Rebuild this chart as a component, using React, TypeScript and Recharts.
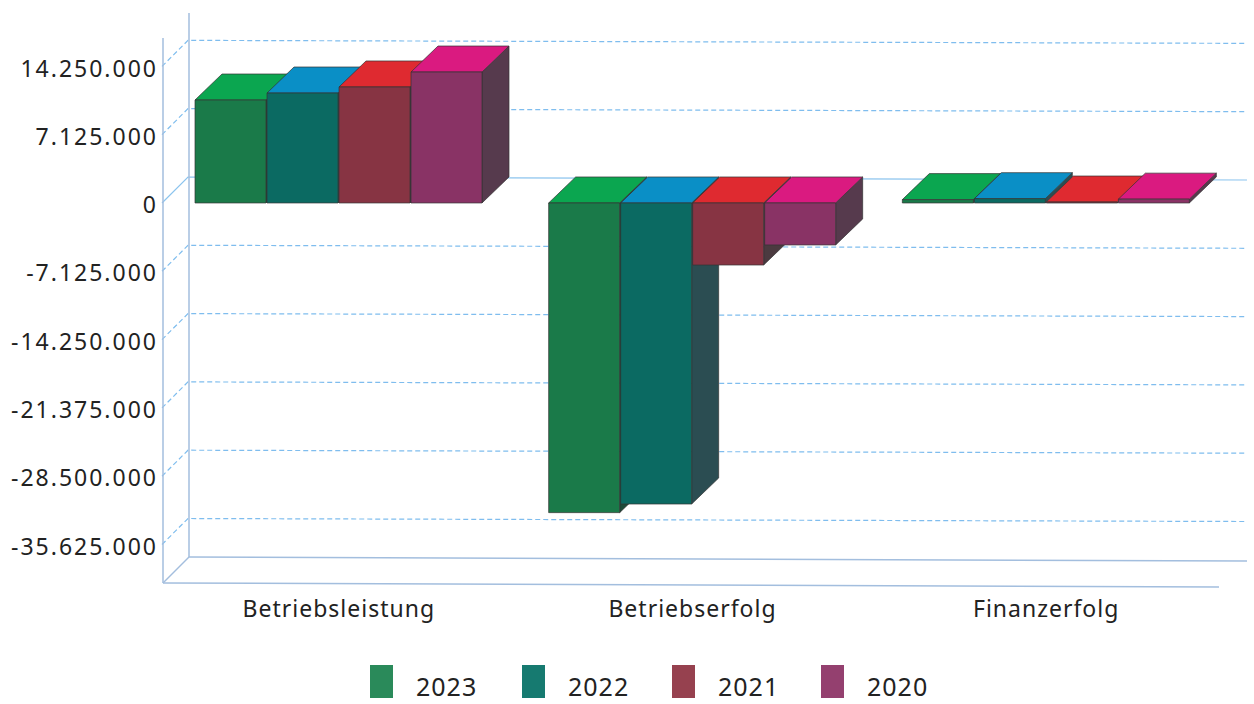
import { BarChart, Bar, XAxis, YAxis, CartesianGrid, Legend } from 'recharts';

const categories = ['Betriebsleistung', 'Betriebserfolg', 'Finanzerfolg'];
const values2023 = [10740000, -32300000, 350000];
const values2022 = [11470000, -31400000, 450000];
const values2021 = [12100000, -6470000, 100000];
const values2020 = [13660000, -4380000, 400000];
const yTicks = [14250000, 7125000, 0, -7125000, -14250000, -21375000, -28500000, -35625000];
const yDomain = [-39640000, 17000000];

const data = categories.map((name, i) => ({
  name,
  y2023: values2023[i],
  y2022: values2022[i],
  y2021: values2021[i],
  y2020: values2020[i],
}));

// front, top and side colours of the fake 3D columns
const series = [
  { key: 'y2023', name: '2023', front: '#1a7a49', top: '#0ba650', side: '#1d4a38', legend: '#2a8a5a' },
  { key: 'y2022', name: '2022', front: '#0b6a62', top: '#0a8fc6', side: '#2b4d52', legend: '#167a70' },
  { key: 'y2021', name: '2021', front: '#873443', top: '#df2a30', side: '#4b3a40', legend: '#96414f' },
  { key: 'y2020', name: '2020', front: '#893365', top: '#da1a80', side: '#563a4d', legend: '#94406f' },
];

const WIDTH = 1254;
const HEIGHT = 704;
const PLOT_TOP = 40;
const PLOT_BOTTOM = 583;
const PLOT_LEFT = 162;
const DX = 27;
const DY = -26;
const FONT = '"Noto Sans", sans-serif';
const LINE = '#a3bede';

const zeroY =
  PLOT_TOP + ((PLOT_BOTTOM - PLOT_TOP) * yDomain[1]) / (yDomain[1] - yDomain[0]);

const Column = (props: any) => {
  const { x, y, width, height, front, top, side } = props;
  const y0 = Math.min(y, y + height);
  const y1 = Math.max(y, y + height);
  return (
    <g stroke="#333" strokeOpacity={0.7} strokeWidth={1} strokeLinejoin="round">
      <polygon
        points={`${x + width},${y0} ${x + width + DX},${y0 + DY} ${x + width + DX},${y1 + DY} ${x + width},${y1}`}
        fill={side}
      />
      <polygon
        points={`${x},${y0} ${x + width},${y0} ${x + width + DX},${y0 + DY} ${x + DX},${y0 + DY}`}
        fill={top}
      />
      <rect x={x} y={y0} width={width} height={Math.max(y1 - y0, 1)} fill={front} />
    </g>
  );
};

// grid line runs over the left wall, then along the back wall with the scan's slight slope
const gridLine = (props: any) => {
  // the grid also gives the plot's top and bottom edge, which the reference does not draw
  if (Math.abs(props.y1 - PLOT_TOP) < 1 || Math.abs(props.y1 - PLOT_BOTTOM) < 1) {
    return <g key={props.key} />;
  }
  const isZero = Math.abs(props.y1 - zeroY) < 1;
  const backY = props.y1 - 26;
  return (
    <path
      key={props.key}
      d={`M${props.x1},${props.y1} L${props.x1 + 26},${backY} L1247,${backY + 3}`}
      fill="none"
      stroke={isZero ? '#8cc4ee' : '#7fbdee'}
      strokeWidth={1.2}
      strokeDasharray={isZero ? undefined : '5 3'}
    />
  );
};

const LegendContent = (props: any) => (
  <div style={{ position: 'relative', height: 80 }}>
    {(props.payload || []).map((entry: any, i: number) => {
      const s = series[i];
      const left = [370, 522, 672, 821][i];
      return (
        <div key={entry.value}>
          <div
            style={{
              position: 'absolute',
              left,
              top: 41,
              width: 23,
              height: 33,
              background: s.legend,
            }}
          />
          <span
            style={{
              position: 'absolute',
              left: left + 46,
              top: 48,
              fontFamily: FONT,
              fontSize: 25,
              lineHeight: '28px',
              letterSpacing: 1,
              whiteSpace: 'nowrap',
              color: '#222',
            }}
          >
            {entry.value}
          </span>
        </div>
      );
    })}
  </div>
);

export default function App() {
  return (
    <div style={{ position: 'absolute', left: 0, top: 0, width: WIDTH, height: HEIGHT, background: '#fff' }}>
      <BarChart
        width={WIDTH}
        height={HEIGHT}
        data={data}
        margin={{ top: PLOT_TOP, right: 31, bottom: 0, left: 0 }}
        barSize={71}
        barGap={1}
      >
        <line x1={189} y1={13} x2={189} y2={557} stroke={LINE} strokeWidth={1.5} />
        <line x1={163} y1={38} x2={163} y2={583} stroke={LINE} strokeWidth={1.5} />
        <line x1={163} y1={583} x2={189} y2={557} stroke={LINE} strokeWidth={1.5} />
        <line x1={189} y1={557} x2={1247} y2={561} stroke={LINE} strokeWidth={1.5} />
        <line x1={163} y1={583} x2={1219} y2={587} stroke={LINE} strokeWidth={1.5} />
        <CartesianGrid vertical={false} horizontal={gridLine} />
        <XAxis
          dataKey="name"
          axisLine={false}
          tickLine={false}
          height={41}
          tickMargin={12}
          interval={0}
          tick={{ fill: '#222', fontFamily: FONT, fontSize: 23, letterSpacing: 1 }}
        />
        <YAxis
          width={PLOT_LEFT}
          domain={yDomain}
          ticks={yTicks}
          interval={0}
          axisLine={false}
          tickLine={false}
          tickSize={0}
          tickMargin={4}
          tickFormatter={(v: number) => v.toLocaleString('de-DE')}
          tick={{ fill: '#222', fontFamily: FONT, fontSize: 23, letterSpacing: 2, dy: 2 }}
        />
        <Legend verticalAlign="bottom" height={80} itemSorter={null} content={<LegendContent />} />
        {series.map((s) => (
          <Bar
            key={s.key}
            dataKey={s.key}
            name={s.name}
            fill={s.front}
            isAnimationActive={false}
            shape={(p: any) => <Column {...p} front={s.front} top={s.top} side={s.side} />}
          />
        ))}
      </BarChart>
    </div>
  );
}
